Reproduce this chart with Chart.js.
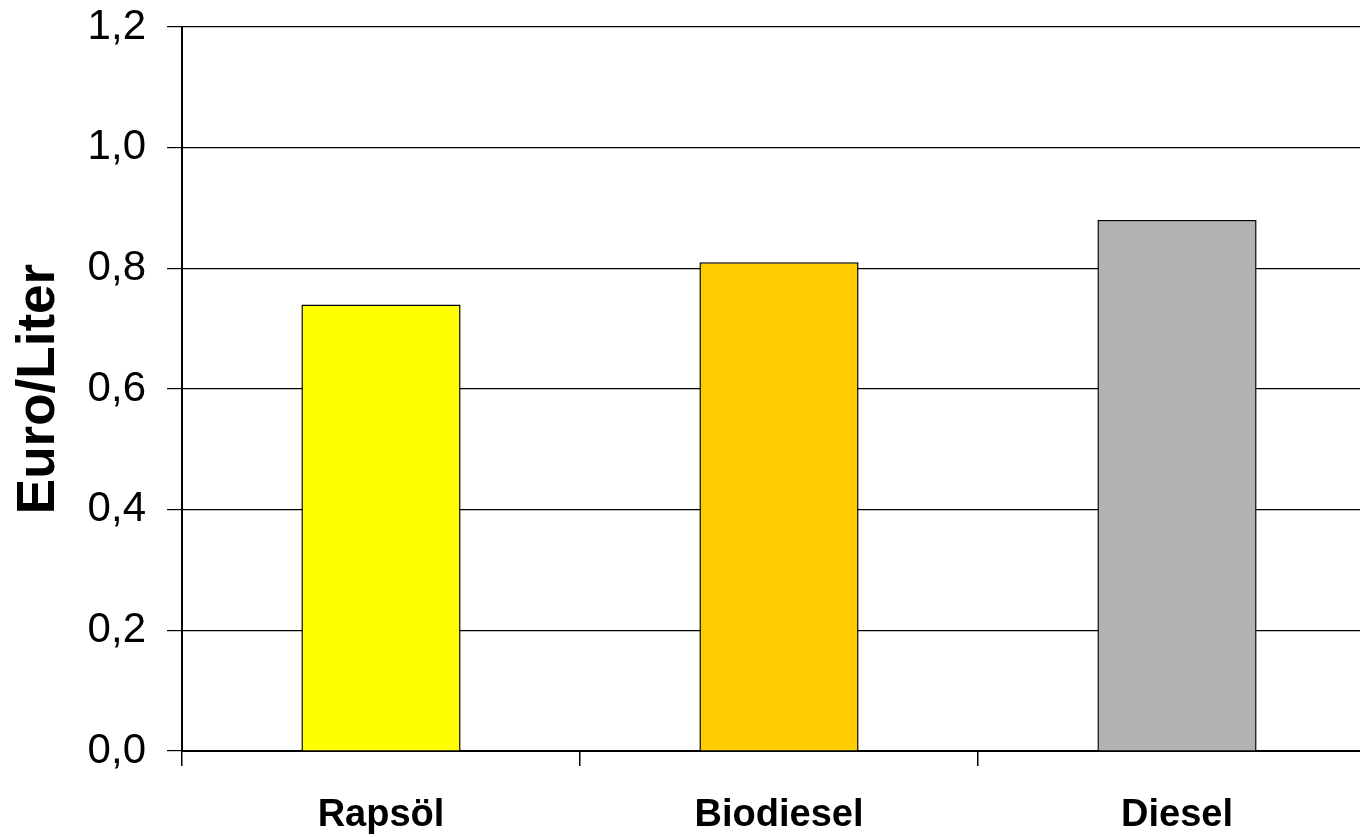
<!DOCTYPE html>
<html>
<head>
<meta charset="utf-8">
<script src="https://cdn.jsdelivr.net/npm/chart.js@4/dist/chart.umd.min.js"></script>
<style>
  html, body { margin: 0; padding: 0; background: #fff; overflow: hidden; }
  #wrap { width: 1376px; height: 837px; }
</style>
</head>
<body>
<div id="wrap"><canvas id="c" width="1376" height="837"></canvas></div>
<script>
// Fuel prices per litre
const categories = ['Rapsöl', 'Biodiesel', 'Diesel'];
const prices = [0.74, 0.81, 0.88];
const barColors = ['#FFFF00', '#FFCC00', '#B2B2B2'];
const yAxisTitle = 'Euro/Liter';
const yMin = 0, yMax = 1.2, yStep = 0.2;

const fontFamily = '"Liberation Sans", Arial, sans-serif';

new Chart(document.getElementById('c'), {
  type: 'bar',
  data: {
    labels: categories,
    datasets: [{
      data: prices,
      backgroundColor: barColors,
      borderColor: '#000',
      borderWidth: 1.5,
      categoryPercentage: 1,
      barPercentage: 0.4
    }]
  },
  options: {
    responsive: false,
    animation: false,
    layout: { padding: { top: 27, right: 0, bottom: 0, left: 0 } },
    plugins: { legend: { display: false }, tooltip: { enabled: false } },
    scales: {
      x: {
        offset: true,
        grid: { offset: true, drawOnChartArea: false, drawTicks: true, tickLength: 15, color: '#000', lineWidth: 1.5 },
        border: { display: true, color: '#000', width: 2 },
        ticks: { color: '#000', padding: 27, font: { family: fontFamily, size: 38, weight: 'bold' }, maxRotation: 0 },
        afterFit: s => { s.height = 86; s.paddingLeft = 0; s.paddingRight = 0; }
      },
      y: {
        min: yMin, max: yMax,
        grid: { color: '#000', lineWidth: 1.2, tickLength: 15, drawTicks: true },
        border: { display: true, color: '#000', width: 2 },
        ticks: {
          stepSize: yStep, color: '#000', padding: 21,
          font: { family: fontFamily, size: 42 },
          callback: v => v.toFixed(1).replace('.', ',')
        },
        title: {
          display: true, text: yAxisTitle, color: '#000',
          font: { family: fontFamily, size: 53, weight: 'bold' },
          padding: { top: 8, bottom: 0 }
        },
        afterFit: s => { s.width = 182; s.paddingTop = 0; s.paddingBottom = 0; }
      }
    }
  }
});
</script>
</body>
</html>
